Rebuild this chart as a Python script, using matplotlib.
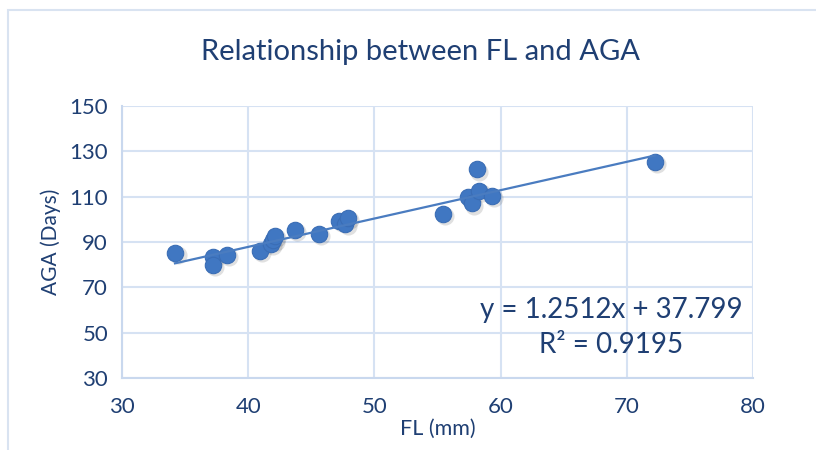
import matplotlib
matplotlib.use('Agg')
import matplotlib.pyplot as plt
import matplotlib.patches as mpatches
import numpy as np

# FL (mm) vs AGA (Days)
fl = [34.2, 37.2, 37.2, 38.3, 40.9, 41.8, 42.0, 42.1, 43.7, 45.6,
      47.2, 47.7, 47.9, 55.4, 57.4, 57.7, 58.1, 58.3, 59.3, 72.2]
aga = [85.3, 83.5, 80.0, 84.2, 86.2, 89.0, 91.0, 92.8, 95.4, 93.5,
       99.2, 98.0, 100.5, 102.2, 110.0, 107.0, 122.0, 112.5, 110.2, 125.2]
slope = 1.2512
intercept = 37.799
r2 = 0.9195

xticks = [30, 40, 50, 60, 70, 80]
yticks = [30, 50, 70, 90, 110, 130, 150]

txt = '#1F3F73'
grid_col = '#D6E2F3'
dot = '#4077C2'

plt.rcParams['font.family'] = ['Lato', 'DejaVu Sans']

fig = plt.figure(figsize=(8.16, 4.5), dpi=100)
fig.patches.append(mpatches.Rectangle((8/816, -0.1), 1.2, 1 - 10/450 + 0.1,
                   transform=fig.transFigure, fill=False,
                   edgecolor='#D9E3F1', linewidth=1.5))
ax = fig.add_axes([0.1495, 0.16, 0.7733, 0.6044])

# soft shadow, then dots
ax.scatter(np.array(fl) + 0.2, np.array(aga) - 0.9, s=170, c='#000000',
           alpha=0.12, linewidths=0, zorder=3)
ax.scatter(fl, aga, s=140, c=dot, edgecolors='#3A6DB5', linewidths=0.8, zorder=4)

xs = np.array([min(fl), max(fl)])
ax.plot(xs, slope * xs + intercept, color='#4A7CC0', linewidth=1.6, zorder=5)

ax.set_xlim(30, 80)
ax.set_ylim(30, 150)
ax.set_xticks(xticks)
ax.set_yticks(yticks)
ax.grid(True, color=grid_col, linewidth=1.5)
ax.set_axisbelow(True)
for side in ['top', 'right']:
    ax.spines[side].set_visible(False)
for side in ['left', 'bottom']:
    ax.spines[side].set_color('#C9D8EE')
    ax.spines[side].set_linewidth(1.5)
ax.tick_params(length=0, colors=txt, labelsize=16, pad=10)
ax.tick_params(axis='x', pad=14)

ax.set_xlabel('FL (mm)', color=txt, fontsize=15.5, labelpad=1)
ax.set_ylabel('AGA (Days)', color=txt, fontsize=15, labelpad=6)
fig.text(0.515, 0.885, 'Relationship between FL and AGA', ha='center',
         va='center', color=txt, fontsize=21)

ax.text(0.749, 0.272, 'y = %.4fx + %.3f\nR² = %.4f' % (slope, intercept, r2),
        transform=fig.transFigure, ha='center', va='center', color=txt,
        fontsize=20, multialignment='center', linespacing=1.45)

fig.savefig('out.png', dpi=100)
